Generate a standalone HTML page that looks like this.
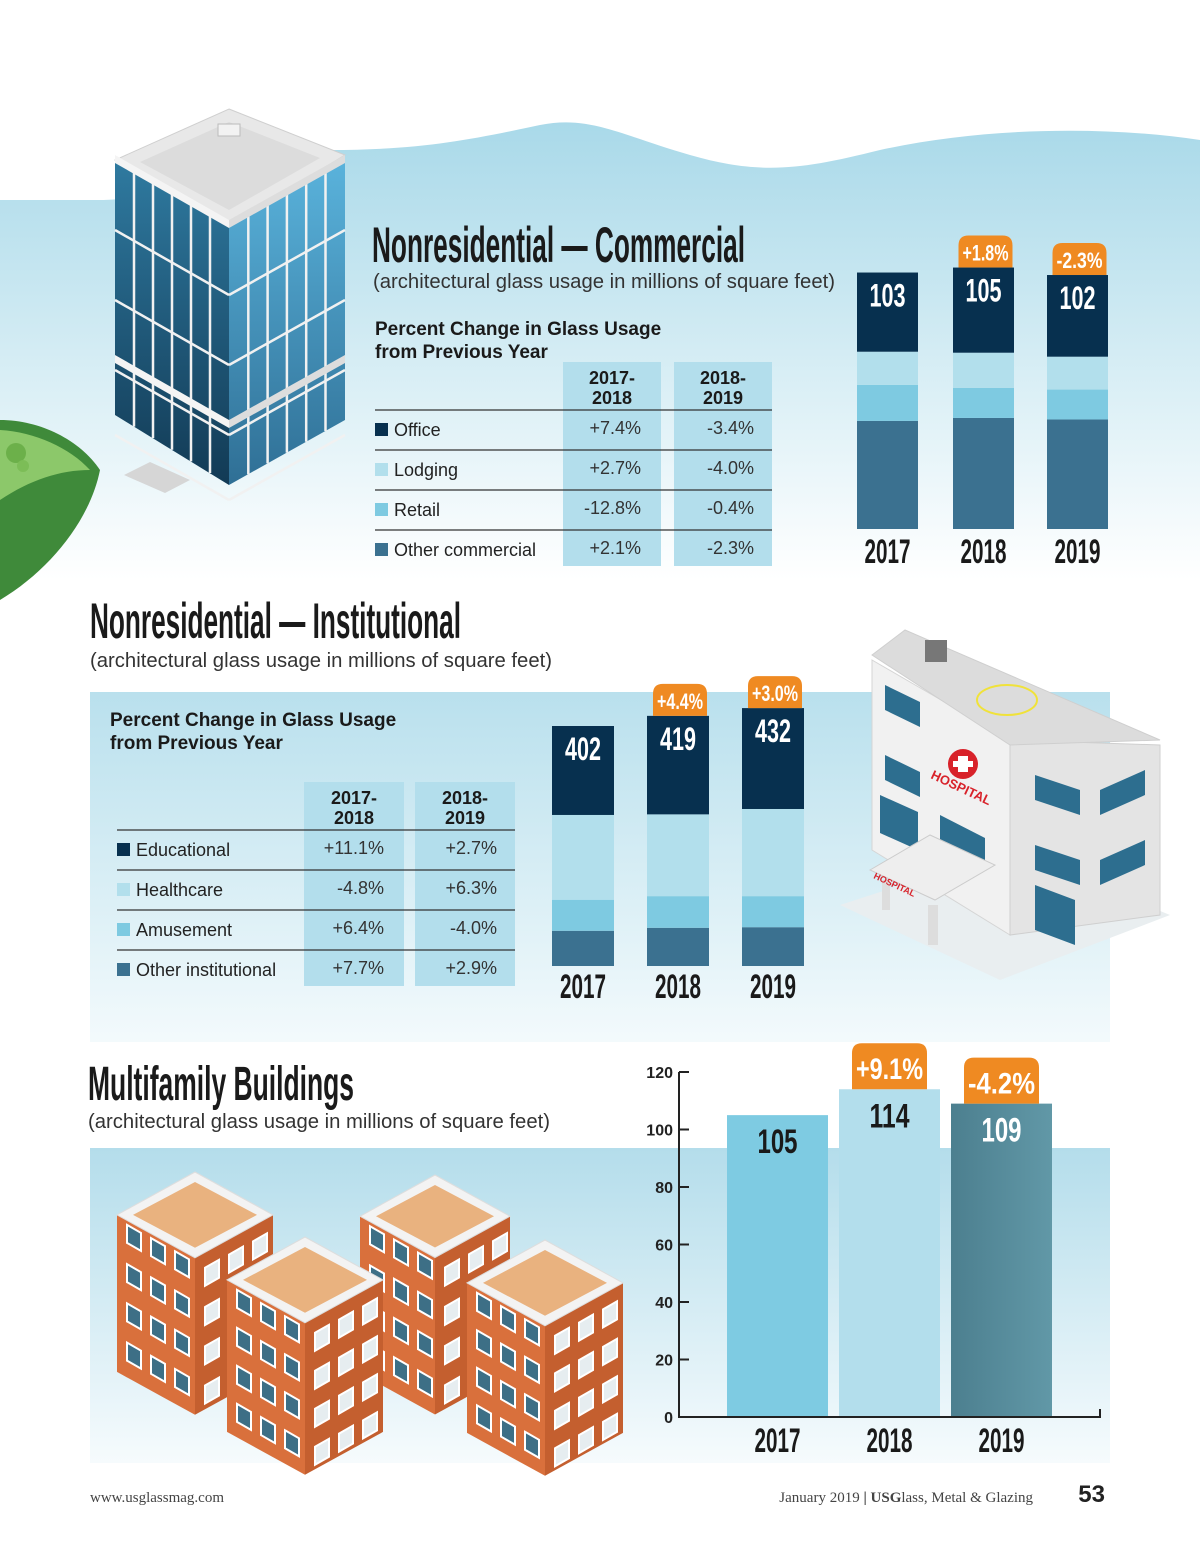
<!DOCTYPE html>
<html><head><meta charset="utf-8"><style>
html,body{margin:0;padding:0;background:#fff}
svg{display:block}
.cond{font-family:"Liberation Sans Narrow","Liberation Sans",sans-serif;font-weight:bold}
.sans{font-family:"Liberation Sans",sans-serif}
.serif{font-family:"Liberation Serif",serif}
</style></head><body>
<svg id="page" width="1200" height="1558" viewBox="0 0 1200 1558" xmlns="http://www.w3.org/2000/svg">
<defs>
<linearGradient id="sky" x1="0" y1="0" x2="0" y2="1"><stop offset="0" stop-color="#a9d9e9"/><stop offset="0.55" stop-color="#d8eef5"/><stop offset="1" stop-color="#ffffff"/></linearGradient>
<linearGradient id="panel" x1="0" y1="0" x2="0" y2="1"><stop offset="0" stop-color="#b9e0ed"/><stop offset="1" stop-color="#f3fafc"/></linearGradient>
<linearGradient id="panel2" x1="0" y1="0" x2="0" y2="1"><stop offset="0" stop-color="#b4ddeb"/><stop offset="1" stop-color="#f6fbfd"/></linearGradient>
<linearGradient id="glassL" x1="0" y1="0" x2="0" y2="1"><stop offset="0" stop-color="#2f7aa0"/><stop offset="1" stop-color="#123a55"/></linearGradient>
<linearGradient id="glassR" x1="0" y1="0" x2="0" y2="1"><stop offset="0" stop-color="#5ab3dc"/><stop offset="1" stop-color="#2f6f95"/></linearGradient>
<linearGradient id="teal" x1="0" y1="0" x2="1" y2="0"><stop offset="0" stop-color="#4c7f8f"/><stop offset="1" stop-color="#6198a7"/></linearGradient>
</defs>

<path d="M0,200 L95,200 C200,200 260,150 330,150 C420,150 470,140 540,125 C590,115 620,135 690,155 C760,175 800,170 880,150 C980,128 1100,125 1200,140 L1200,580 L0,580 Z" fill="url(#sky)"/>

<g>
<path d="M0,420 C40,420 80,440 100,470 C90,520 50,570 0,600 Z" fill="#3f8a3a"/>
<path d="M0,430 C35,432 70,448 90,470 C60,470 30,480 0,500 Z" fill="#8cc86a"/>
<circle cx="16" cy="453" r="10" fill="#6cb04a"/><circle cx="23" cy="466" r="6" fill="#7cbd57"/>
</g>

<g>
<polygon points="229,109 345,155 229,225 115,160" fill="#e8e8e8" stroke="#cfcfcf"/>
<polygon points="229,122 320,158 229,210 140,162" fill="#dcdcdc"/>
<rect x="218" y="124" width="22" height="12" fill="#f2f2f2" stroke="#bbb"/>
<polygon points="115,160 229,225 229,485 115,415" fill="url(#glassL)"/>
<polygon points="229,225 345,160 345,420 229,485" fill="url(#glassR)"/>
<g id="grid" stroke="#f1f1f1" stroke-width="2.5"></g>
<polygon points="115,155 229,220 229,228 115,163" fill="#f4f4f4"/>
<polygon points="229,220 345,155 345,163 229,228" fill="#ddd"/>
<polygon points="115,355 229,420 229,428 115,363" fill="#f4f4f4"/>
<polygon points="229,420 345,355 345,363 229,428" fill="#ddd"/>
<polygon points="124,475 150,462 190,480 165,493" fill="#d6d6d6"/>
</g>

<text class="cond" x="372" y="262" font-size="50" fill="#1a1a1a" textLength="373" lengthAdjust="spacingAndGlyphs">Nonresidential — Commercial</text>
<text class="sans" x="373" y="288" font-size="20" fill="#333" textLength="462" lengthAdjust="spacingAndGlyphs">(architectural glass usage in millions of square feet)</text>
<g id="commTable"></g>
<g id="commChart"></g>

<rect x="90" y="692" width="1020" height="350" fill="url(#panel)"/>
<text class="cond" x="90" y="638" font-size="50" fill="#1a1a1a" textLength="371" lengthAdjust="spacingAndGlyphs">Nonresidential — Institutional</text>
<text class="sans" x="90" y="667" font-size="20" fill="#333" textLength="462" lengthAdjust="spacingAndGlyphs">(architectural glass usage in millions of square feet)</text>
<g id="instTable"></g>
<g id="instChart"></g>

<g>
<polygon points="840,905 1000,980 1170,915 1010,850" fill="#e9eef0"/>
<polygon points="872,660 1010,740 1010,935 872,850" fill="#f1f1f1" stroke="#d5d5d5"/>
<polygon points="1010,740 1160,745 1160,915 1010,935" fill="#e4e4e4" stroke="#cfcfcf"/>
<polygon points="872,655 905,630 1160,740 1010,745" fill="#dcdcdc" stroke="#cfcfcf"/>
<ellipse cx="1007" cy="700" rx="30" ry="15" fill="none" stroke="#f0e23a" stroke-width="2"/>
<rect x="925" y="640" width="22" height="22" fill="#777"/>
<g fill="#2d6e8f">
<polygon points="885,685 920,702 920,727 885,710"/><polygon points="885,755 920,772 920,797 885,780"/>
<polygon points="880,795 918,812 918,850 880,833"/><polygon points="940,815 985,838 985,865 940,842"/>
<polygon points="1035,775 1080,790 1080,815 1035,800"/><polygon points="1100,790 1145,770 1145,795 1100,815"/>
<polygon points="1035,845 1080,860 1080,885 1035,870"/><polygon points="1100,860 1145,840 1145,865 1100,885"/>
<polygon points="1035,885 1075,900 1075,945 1035,930"/>
</g>
<polygon points="870,870 930,835 995,865 935,900" fill="#eeeeee" stroke="#ccc"/>
<rect x="882" y="880" width="8" height="30" fill="#ddd"/><rect x="928" y="905" width="10" height="40" fill="#ddd"/>
<circle cx="963" cy="764" r="15" fill="#d8222a"/>
<path d="M958,756h10v5h5v6h-5v5h-10v-5h-5v-6h5z" fill="#fff"/>
<text x="930" y="778" class="sans" font-weight="bold" font-size="13" fill="#d8222a" transform="rotate(25 930 778)">HOSPITAL</text>
<text x="873" y="878" class="sans" font-weight="bold" font-size="9" fill="#d8222a" transform="rotate(25 873 878)">HOSPITAL</text>
</g>

<rect x="90" y="1148" width="1020" height="315" fill="url(#panel2)"/>
<text class="cond" x="88" y="1100" font-size="48" fill="#1a1a1a" textLength="266" lengthAdjust="spacingAndGlyphs">Multifamily Buildings</text>
<text class="sans" x="88" y="1128" font-size="20" fill="#333" textLength="462" lengthAdjust="spacingAndGlyphs">(architectural glass usage in millions of square feet)</text>
<g id="apartments"></g>
<g id="mfChart"></g>

<text class="serif" x="90" y="1502" font-size="15" fill="#444">www.usglassmag.com</text>
<text class="serif" x="1033" y="1502" font-size="15" fill="#444" text-anchor="end">January 2019 <tspan font-weight="bold">|</tspan>  <tspan font-weight="bold">USG</tspan>lass, Metal &amp; Glazing</text>
<text class="sans" x="1105" y="1502" font-size="24" font-weight="bold" fill="#222" text-anchor="end">53</text>
</svg>

<script>
// ---------- DATA ----------
const years = ["2017", "2018", "2019"];
const commTotals = [103, 105, 102];
const commOffice = [31.8, 34.2, 32.8];
const commLodging = [13.3, 14.1, 13.2];
const commRetail = [14.5, 12.1, 12.0];
const commOther = [43.4, 44.6, 44.0];
const commBadges = ["", "+1.8%", "-2.3%"];
const commCats = ["Office", "Lodging", "Retail", "Other commercial"];
const commChg1 = ["+7.4%", "+2.7%", "-12.8%", "+2.1%"];
const commChg2 = ["-3.4%", "-4.0%", "-0.4%", "-2.3%"];

const instTotals = [402, 419, 432];
const instEdu = [149, 165, 169];
const instHealth = [142, 137, 146];
const instAmuse = [52, 53, 52];
const instOther = [59, 64, 65];
const instBadges = ["", "+4.4%", "+3.0%"];
const instCats = ["Educational", "Healthcare", "Amusement", "Other institutional"];
const instChg1 = ["+11.1%", "-4.8%", "+6.4%", "+7.7%"];
const instChg2 = ["+2.7%", "+6.3%", "-4.0%", "+2.9%"];

const mfValues = [105, 114, 109];
const mfBadges = ["", "+9.1%", "-4.2%"];
const mfTicks = [0, 20, 40, 60, 80, 100, 120];

// ---------- HELPERS ----------
const NS = "http://www.w3.org/2000/svg";
function mk(parent, tag, attrs, text) {
  const e = document.createElementNS(NS, tag);
  for (const k in attrs) e.setAttribute(k, attrs[k]);
  if (text !== undefined) e.textContent = text;
  parent.appendChild(e);
  return e;
}
const segColors = ["#07304f", "#b2dfec", "#7ecae1", "#3b7190"];

function badge(g, cx, yBottom, w, h, label, fs) {
  const x = cx - w / 2, y = yBottom - h, r = 10;
  const p = mk(g, "path", {d: `M${x},${yBottom} V${y + r} Q${x},${y} ${x + r},${y} H${x + w - r} Q${x + w},${y} ${x + w},${y + r} V${yBottom} Z`, fill: "#ef8a22"});
  
  
  const t = mk(g, "text", {x: cx, y: yBottom - h * 0.22, "text-anchor": "middle", "class": "cond", "font-size": fs, fill: "#fff", textLength: w - 8, lengthAdjust: "spacingAndGlyphs"}, label);
  
  
}

function stacked(gid, xs, bw, baseY, scale, segs, totals, badges, yearY, bh) {
  const g = document.getElementById(gid);
  const yv = v => baseY - v * scale;
  years.forEach((yr, i) => {
    let acc = 0;
    const order = [3, 2, 1, 0];
    order.forEach(s => {
      const v = segs[s][i];
      const r = mk(g, "rect", {x: xs[i], y: yv(acc + v), width: bw, height: v * scale, fill: segColors[s]});
      
      
      acc += v;
    });
    const topY = yv(totals[i]);
    const lab = mk(g, "text", {x: xs[i] + bw / 2, y: topY + 34, "text-anchor": "middle", "class": "cond", "font-weight": "normal", "font-size": 32, fill: "#fff", textLength: 36, lengthAdjust: "spacingAndGlyphs"}, String(totals[i]));
    
    
    if (badges[i]) badge(g, xs[i] + bw / 2 + 2, topY, 54, bh, badges[i], 22);
    const yl = mk(g, "text", {x: xs[i] + bw / 2, y: yearY, "text-anchor": "middle", "class": "cond", "font-weight": "normal", "font-size": 34, fill: "#1a1a1a", textLength: 46, lengthAdjust: "spacingAndGlyphs"}, yr);
    
    
  });
}

function table(gid, x0, col1, col2, colW, topY, lineY0, rowH, cats, c1, c2, titleX, titleY) {
  const g = document.getElementById(gid);
  const t1 = mk(g, "text", {x: titleX, y: titleY, "class": "sans", "font-weight": "bold", "font-size": 19, fill: "#1a1a1a"}, "Percent Change in Glass Usage");
  
  
  const t2 = mk(g, "text", {x: titleX, y: titleY + 23, "class": "sans", "font-weight": "bold", "font-size": 19, fill: "#1a1a1a"}, "from Previous Year");
  
  
  const bottom = lineY0 + rowH * 4 - 4;
  [[col1, "2017-", "2018"], [col2, "2018-", "2019"]].forEach(([cx, a, b]) => {
    const r = mk(g, "rect", {x: cx, y: topY, width: colW, height: bottom - topY, fill: "#b3deec"});
    
    
    const h1 = mk(g, "text", {x: cx + colW / 2, y: topY + 22, "text-anchor": "middle", "class": "sans", "font-weight": "bold", "font-size": 18, fill: "#1a1a1a"}, a);
    
    
    const h2 = mk(g, "text", {x: cx + colW / 2, y: topY + 42, "text-anchor": "middle", "class": "sans", "font-weight": "bold", "font-size": 18, fill: "#1a1a1a"}, b);
    
    
  });
  cats.forEach((c, i) => {
    const ly = lineY0 + i * rowH;
    const ln = mk(g, "line", {x1: x0, x2: col2 + colW, y1: ly, y2: ly, stroke: "#333", "stroke-width": 1.3});
    
    
    const ty = ly + 26;
    const sq = mk(g, "rect", {x: x0, y: ty - 13, width: 13, height: 13, fill: segColors[i]});
    
    
    const lt = mk(g, "text", {x: x0 + 19, y: ty, "class": "sans", "font-size": 18, fill: "#222"}, c);
    
    
    const v1 = mk(g, "text", {x: col1 + colW - 20, y: ty - 2, "text-anchor": "end", "class": "sans", "font-size": 18, fill: "#333"}, c1[i]);
    
    
    const v2 = mk(g, "text", {x: col2 + colW - 18, y: ty - 2, "text-anchor": "end", "class": "sans", "font-size": 18, fill: "#333"}, c2[i]);
    
    
  });
}

table("commTable", 375, 563, 674, 98, 362, 410, 40, commCats, commChg1, commChg2, 375, 335);
stacked("commChart", [857, 953, 1047], 61, 529, 2.49, [commOffice, commLodging, commRetail, commOther], commTotals, commBadges, 563, 32);

table("instTable", 117, 304, 415, 100, 782, 830, 40, instCats, instChg1, instChg2, 110, 726);
stacked("instChart", [552, 647, 742], 62, 966, 0.597, [instEdu, instHealth, instAmuse, instOther], instTotals, instBadges, 998, 32);

(function () {
  const g = document.getElementById("mfChart");
  const x0 = 679, y0 = 1417, scale = 345 / 120;
  const yv = v => y0 - v * scale;
  const xs = [727, 839, 951], bw = 101;
  const fills = ["#7ecbe2", "#b3deec", "url(#teal)"];
  const labCol = ["#1a1a1a", "#1a1a1a", "#fff"];
  mfValues.forEach((v, i) => {
    const r = mk(g, "rect", {x: xs[i], y: yv(v), width: bw, height: v * scale, fill: fills[i]});
    
    
    const t = mk(g, "text", {x: xs[i] + bw / 2, y: yv(v) + 38, "text-anchor": "middle", "class": "cond", "font-weight": "normal", "font-size": 34, fill: labCol[i], textLength: 40, lengthAdjust: "spacingAndGlyphs"}, String(v));
    
    
    if (mfBadges[i]) badge(g, xs[i] + bw / 2, yv(v), 75, 46, mfBadges[i], 30);
    const yl = mk(g, "text", {x: xs[i] + bw / 2, y: 1452, "text-anchor": "middle", "class": "cond", "font-weight": "normal", "font-size": 34, fill: "#1a1a1a", textLength: 46, lengthAdjust: "spacingAndGlyphs"}, years[i]);
    
    
  });
  const ax = mk(g, "path", {d: `M${x0},${yv(120)} V${y0} H1100 V${y0 - 8}`, fill: "none", stroke: "#222", "stroke-width": 2});
  
  
  mfTicks.forEach(t => {
    const tk = mk(g, "line", {x1: x0, x2: x0 + 10, y1: yv(t), y2: yv(t), stroke: "#222", "stroke-width": 2});
    
    
    const tl = mk(g, "text", {x: x0 - 6, y: yv(t) + 6, "text-anchor": "end", "class": "cond", "font-size": 16, "font-weight": "normal", fill: "#222"}, String(t));
    
    
  });
})();

(function () {
  const g = document.getElementById("grid");
  for (let i = 1; i < 6; i++) {
    const x = 115 + i * 19;
    mk(g, "line", {x1: x, y1: 160 + (x - 115) * 0.57, x2: x, y2: 415 + (x - 115) * 0.61});
    const x2 = 229 + i * 19.3;
    mk(g, "line", {x1: x2, y1: 225 - (x2 - 229) * 0.56, x2: x2, y2: 485 - (x2 - 229) * 0.56});
  }
  [70, 140, 210, 275].forEach(d => {
    mk(g, "line", {x1: 115, y1: 160 + d, x2: 229, y2: 225 + d});
    mk(g, "line", {x1: 229, y1: 225 + d, x2: 345, y2: 160 + d});
  });
})();

(function () {
  const g = document.getElementById("apartments");
  const blocks = [[195, 1172, 78, 157], [435, 1175, 75, 157], [305, 1237, 78, 152], [545, 1240, 78, 150]];
  blocks.forEach(([cx, ty, hw, h]) => {
    const hh = hw * 0.55;
    mk(g, "polygon", {points: `${cx - hw},${ty + hh} ${cx},${ty + 2 * hh} ${cx},${ty + 2 * hh + h} ${cx - hw},${ty + hh + h}`, fill: "#d9703c"});
    mk(g, "polygon", {points: `${cx},${ty + 2 * hh} ${cx + hw},${ty + hh} ${cx + hw},${ty + hh + h} ${cx},${ty + 2 * hh + h}`, fill: "#c45f2f"});
    mk(g, "polygon", {points: `${cx},${ty} ${cx + hw},${ty + hh} ${cx},${ty + 2 * hh} ${cx - hw},${ty + hh}`, fill: "#f3f3f3", stroke: "#ddd"});
    mk(g, "polygon", {points: `${cx},${ty + 10} ${cx + hw - 16},${ty + hh} ${cx},${ty + 2 * hh - 10} ${cx - hw + 16},${ty + hh}`, fill: "#e9b27f"});
    const rs = h / 4;
    for (let r = 0; r < 4; r++) for (let c = 0; c < 3; c++) {
      const wx = cx - hw + 10 + c * 24, wy = ty + hh + 10 + r * rs + c * 24 * 0.55;
      mk(g, "polygon", {points: `${wx},${wy} ${wx + 14},${wy + 8} ${wx + 14},${wy + 26} ${wx},${wy + 18}`, fill: "#3d6f86", stroke: "#fff", "stroke-width": 2});
      const vx = cx + 10 + c * 24, vy = ty + 2 * hh + 10 + r * rs - (c * 24) * 0.55 - 8;
      mk(g, "polygon", {points: `${vx},${vy + 8} ${vx + 14},${vy} ${vx + 14},${vy + 18} ${vx},${vy + 26}`, fill: "#e6edf0", stroke: "#fff", "stroke-width": 2});
    }
  });
})();
</script>
</body></html>
